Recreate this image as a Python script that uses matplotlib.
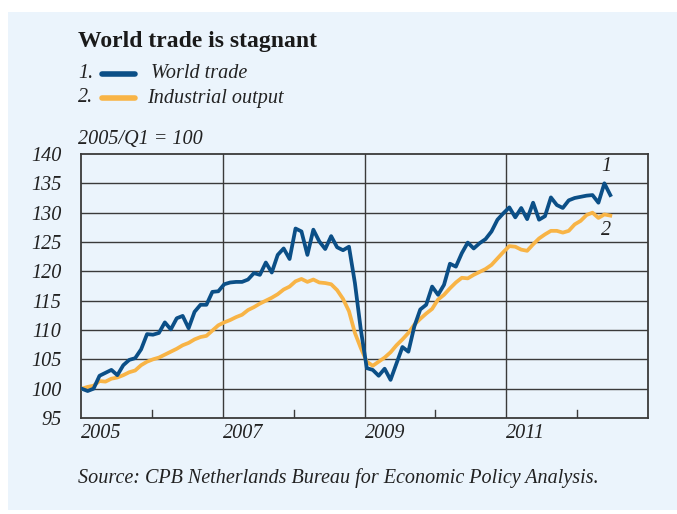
import numpy as np
import matplotlib
matplotlib.use("Agg")
import matplotlib.pyplot as plt
from matplotlib.patches import Rectangle

# monthly data, Jan 2005 onwards (2005/Q1 = 100)
world_trade = [100.0, 99.6, 100.0, 102.2, 102.7, 103.2, 102.3, 104.0, 104.9, 105.2,
               106.7, 109.3, 109.2, 109.5, 111.3, 110.1, 112.0, 112.4, 110.3, 113.1,
               114.3, 114.3, 116.5, 116.6, 117.8, 118.1, 118.2, 118.2, 118.6, 119.7,
               119.4, 121.5, 119.8, 122.8, 123.9, 122.1, 127.3, 126.8, 122.8, 127.1,
               125.1, 123.8, 126.0, 124.1, 123.6, 124.2, 118.0, 110.0, 103.5, 103.2,
               102.2, 103.4, 101.5, 104.3, 107.1, 106.3, 110.6, 113.5, 114.3, 117.4,
               116.0, 117.7, 121.3, 120.8, 123.1, 124.9, 123.9, 124.8, 125.5, 126.8,
               128.8, 129.9, 130.9, 129.2, 130.8, 128.9, 131.7, 128.8, 129.4, 132.6,
               131.3, 130.8, 132.1, 132.5, 132.7, 132.9, 133.0, 131.7, 135.0, 133.0]
industrial_output = [100.0, 100.3, 100.5, 101.3, 101.2, 101.7, 101.9, 102.3, 102.8, 103.1,
                     104.0, 104.6, 105.0, 105.3, 105.8, 106.3, 106.8, 107.4, 107.8, 108.4,
                     108.8, 109.0, 109.9, 110.8, 111.3, 111.7, 112.2, 112.6, 113.4, 113.9,
                     114.5, 115.0, 115.5, 116.1, 116.9, 117.4, 118.3, 118.7, 118.2, 118.6,
                     118.1, 118.0, 117.8, 116.8, 115.3, 113.2, 109.5, 106.9, 104.6, 103.9,
                     104.6, 105.3, 106.2, 107.4, 108.4, 109.5, 110.9, 111.9, 112.8, 113.6,
                     115.2, 116.0, 117.1, 118.1, 118.9, 118.8, 119.4, 119.9, 120.4, 121.1,
                     122.2, 123.3, 124.3, 124.2, 123.7, 123.5, 124.6, 125.6, 126.3, 126.9,
                     126.9, 126.6, 126.9, 128.0, 128.6, 129.6, 130.0, 129.1, 129.7, 129.5]
year_labels = [2005, 2007, 2009, 2011]
minor_years = [2006, 2008, 2010, 2012]
y_ticks = list(range(95, 141, 5))

dates = 2005.01 + np.arange(len(world_trade)) * 0.0838

blue = "#0B4F87"
orange = "#F8B446"
bg = "#EBF4FC"
txt = "#222222"

plt.rcParams["font.family"] = ["Liberation Serif", "DejaVu Serif"]

fig = plt.figure(figsize=(6.77, 5.14), dpi=100)
fig.patch.set_facecolor("white")
fig.patches.append(Rectangle((8 / 677, 4 / 514), 669 / 677, 498 / 514,
                             transform=fig.transFigure, facecolor=bg, edgecolor="none", zorder=-1))

ax = fig.add_axes([81 / 677, 96 / 514, 567 / 677, 264 / 514])
ax.set_facecolor(bg)
ax.plot(dates, world_trade, color=blue, lw=2.7, zorder=4)
ax.plot(dates, industrial_output, color=orange, lw=2.7, zorder=3)

ax.set_xlim(2005, 2013)
ax.set_ylim(95, 140)
for y in y_ticks[1:-1]:
    ax.axhline(y, color="#3a3a3a", lw=1.0, zorder=1)
for x in [2007, 2009, 2011]:
    ax.axvline(x, color="#3a3a3a", lw=1.0, zorder=1)
for x in minor_years:
    ax.plot([x, x], [95, 96.4], color="#3a3a3a", lw=1.0, zorder=1)
for s in ax.spines.values():
    s.set_color("#3a3a3a")
    s.set_linewidth(1.3)

ax.set_xticks([])
ax.set_yticks(y_ticks)
ax.set_yticklabels([str(v) for v in y_ticks], fontsize=14.5, style="italic", color=txt)
ax.tick_params(axis="y", length=0, pad=14)

for yr in year_labels:
    ax.text(yr, 94.0, str(yr), fontsize=14.5, style="italic", color=txt, ha="left", va="top")

ax.text(dates[-1] - 0.06, 136.3, "1", fontsize=14.5, style="italic", color=txt, ha="center", va="bottom")
ax.text(dates[-1] - 0.06, 128.6, "2", fontsize=14.5, style="italic", color=txt, ha="center", va="top")

fig.text(78 / 677, 1 - 42 / 514, "World trade is stagnant", fontsize=17, fontweight="bold",
         color="#1a1a1a", va="center")
fig.text(78 / 677, 1 - 74 / 514, "1.", fontsize=14.5, style="italic", color=txt, va="center")
fig.text(78 / 677, 1 - 98 / 514, "2.", fontsize=14.5, style="italic", color=txt, va="center")
fig.lines.append(plt.Line2D([102 / 677, 135 / 677], [1 - 74 / 514] * 2, transform=fig.transFigure,
                            color=blue, lw=4, solid_capstyle="round"))
fig.lines.append(plt.Line2D([102 / 677, 135 / 677], [1 - 98 / 514] * 2, transform=fig.transFigure,
                            color=orange, lw=4, solid_capstyle="round"))
fig.text(151 / 677, 1 - 74 / 514, "World trade", fontsize=14.5, style="italic", color=txt, va="center")
fig.text(147 / 677, 1 - 98 / 514, "Industrial output", fontsize=14.5, style="italic", color=txt, va="center")
fig.text(78 / 677, 1 - 140 / 514, "2005/Q1 = 100", fontsize=14.5, style="italic", color=txt, va="center")
fig.text(78 / 677, 1 - 478 / 514, "Source: CPB Netherlands Bureau for Economic Policy Analysis.",
         fontsize=14.5, style="italic", color=txt, va="center")

fig.savefig("out.png", dpi=100, facecolor=fig.get_facecolor())
